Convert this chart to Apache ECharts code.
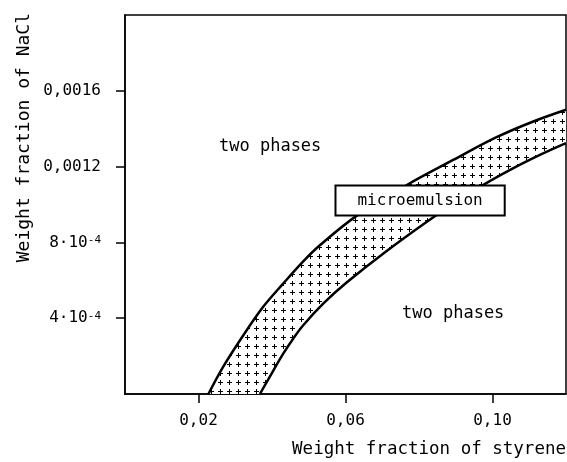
<!DOCTYPE html>
<html>
<head>
<meta charset="utf-8">
<script src="https://cdn.jsdelivr.net/npm/echarts@6/dist/echarts.min.js"></script>
<style>
  html, body { margin: 0; padding: 0; background: #fff; }
  #chart { width: 567px; height: 462px; }
</style>
</head>
<body>
<div id="chart"></div>
<script>
// phase boundaries, [weight fraction styrene, weight fraction NaCl]
var upperCurve = [
  [0.0227, 0], [0.0267, 0.000143], [0.0322, 0.00031], [0.0376, 0.00046],
  [0.0431, 0.000584], [0.0485, 0.000700], [0.0531, 0.000786], [0.0630, 0.000940],
  [0.0767, 0.001103], [0.0893, 0.001235], [0.1011, 0.001355], [0.1111, 0.001438],
  [0.12, 0.0015]
];
var lowerCurve = [
  [0.0367, 0], [0.0404, 0.000125], [0.0431, 0.000214], [0.0458, 0.000293],
  [0.0485, 0.000363], [0.0540, 0.000478], [0.0603, 0.000588], [0.0712, 0.000755],
  [0.0848, 0.000945], [0.0966, 0.001093], [0.1048, 0.001183], [0.1129, 0.001262],
  [0.12, 0.001324]
];

var xTicks = [0.02, 0.06, 0.10];
var xTickLabels = ['0,02', '0,06', '0,10'];
var yTicks = [0.0004, 0.0008, 0.0012, 0.0016];
var yTickLabels = ['4·10{sup|-4}', '8·10{sup|-4}', '0,0012', '0,0016'];

var noteText = ['two phases', 'two phases', 'microemulsion'];
var noteAt = [[0.0395, 0.001304], [0.0893, 0.000427], [0.0803, 0.001021]];

var FONT = '"DejaVu Sans Mono", monospace';

// cross hatch tile for the microemulsion band
var tile = document.createElement('canvas');
tile.width = 9;
tile.height = 9;
var tc = tile.getContext('2d');
tc.fillStyle = '#fff';
tc.fillRect(0, 0, 9, 9);
tc.fillStyle = '#000';
tc.fillRect(2, 4, 5, 1);
tc.fillRect(4, 2, 1, 5);

function pickLabel(ticks, labels, v) {
  for (var i = 0; i < ticks.length; i++) {
    if (Math.abs(ticks[i] - v) < 1e-9) return labels[i];
  }
  return '';
}

var chart = echarts.init(document.getElementById('chart'), null, { renderer: 'canvas' });

var notes = noteText.map(function (t, i) {
  var item = { name: t, value: noteAt[i] };
  if (t === 'microemulsion') {
    item.label = {
      backgroundColor: '#fff',
      borderColor: '#000',
      borderWidth: 2,
      padding: [6, 21, 6, 21]
    };
  } else {
    item.label = { fontSize: 17 };
  }
  return item;
});

function boundary(points) {
  return {
    type: 'line',
    data: points,
    smooth: 0.35,
    showSymbol: false,
    silent: true,
    clip: true,
    z: 3,
    lineStyle: { color: '#000', width: 2.5 }
  };
}

chart.setOption({
  animation: false,
  backgroundColor: '#fff',
  grid: {
    left: 125, right: 1, top: 15, bottom: 68,
    show: true, borderColor: '#000', borderWidth: 1.5,
    outerBoundsMode: 'none'
  },
  xAxis: {
    type: 'value', min: 0, max: 0.12,
    splitLine: { show: false },
    axisLine: { lineStyle: { color: '#000', width: 1.5 } },
    axisTick: { customValues: xTicks, length: 9, lineStyle: { color: '#000', width: 1.5 } },
    axisLabel: {
      customValues: xTicks, margin: 19,
      fontFamily: FONT, fontSize: 16, color: '#000',
      formatter: function (v) { return pickLabel(xTicks, xTickLabels, v); }
    },
    name: 'Weight fraction of styrene',
    nameLocation: 'end', nameGap: 0,
    nameTextStyle: {
      fontFamily: FONT, fontSize: 17.5, color: '#000',
      align: 'right', verticalAlign: 'top', padding: [46, 0, 0, 0]
    }
  },
  yAxis: {
    type: 'value', min: 0, max: 0.002,
    splitLine: { show: false },
    axisLine: { lineStyle: { color: '#000', width: 1.5 } },
    axisTick: { customValues: yTicks, length: 9, lineStyle: { color: '#000', width: 1.5 } },
    axisLabel: {
      customValues: yTicks, margin: 24,
      fontFamily: FONT, fontSize: 16, color: '#000',
      formatter: function (v) { return pickLabel(yTicks, yTickLabels, v); },
      rich: {
        sup: { fontFamily: FONT, fontSize: 11, color: '#000', verticalAlign: 'top' }
      }
    },
    name: 'Weight fraction of NaCl',
    nameLocation: 'end', nameGap: 2, nameRotate: 90,
    nameTextStyle: {
      fontFamily: FONT, fontSize: 18, color: '#000',
      align: 'right', verticalAlign: 'bottom', padding: [0, 0, 92, 0]
    }
  },
  series: [
    {
      type: 'custom',
      coordinateSystem: 'cartesian2d',
      silent: true,
      clip: true,
      z: 2,
      data: [[0, 0]],
      renderItem: function (params, api) {
        var up = upperCurve.map(function (p) { return api.coord(p); });
        var lo = lowerCurve.map(function (p) { return api.coord(p); });
        return {
          type: 'polygon',
          shape: { points: up.concat(lo.slice().reverse()) },
          style: { fill: { image: tile, repeat: 'repeat' }, stroke: null }
        };
      }
    },
    boundary(upperCurve),
    boundary(lowerCurve),
    {
      type: 'scatter',
      symbolSize: 0,
      silent: true,
      z: 5,
      itemStyle: { opacity: 1 },
      data: notes,
      label: {
        show: true, position: 'inside', formatter: '{b}',
        fontFamily: FONT, fontSize: 16, color: '#000', opacity: 1
      }
    }
  ]
});
</script>
</body>
</html>
